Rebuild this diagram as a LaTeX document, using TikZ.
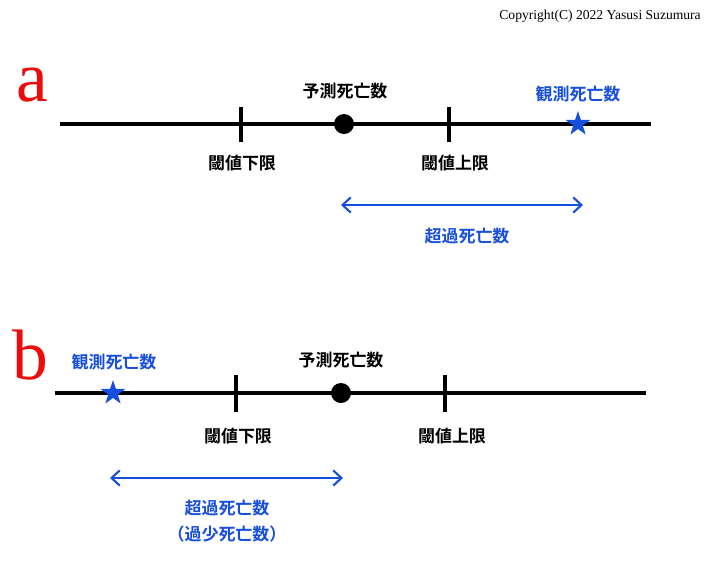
\documentclass[tikz,border=0pt]{standalone}
\usepackage{fontspec}
\setmainfont{Liberation Serif}
\newfontfamily\cjk[BoldFont={Noto Sans CJK JP Bold}]{Noto Sans CJK JP}
\usepackage{tikz}
\usetikzlibrary{shapes.geometric, arrows.meta, positioning, calc}
\definecolor{obsblue}{RGB}{22,78,222}
\definecolor{panelred}{RGB}{236,12,12}
\tikzset{
  axis/.style={line width=2.6pt},
  tick/.style={line width=2.6pt},
  lbl/.style={font=\cjk\bfseries\fontsize{14.5}{17}\selectfont, inner sep=0pt},
  bluelbl/.style={lbl, text=obsblue},
  expected/.style={circle, fill=black, inner sep=0pt, minimum size=20*0.03cm},
  observed/.style={star, star points=5, star point ratio=2.6, fill=obsblue, inner sep=0pt, minimum size=26*0.03cm},
  span/.style={line width=2.1pt, draw=obsblue, {Straight Barb[length=7pt, width=13pt, line width=1.8pt]}-{Straight Barb[length=7pt, width=13pt, line width=1.8pt]}},
  panel/.style={font=\fontsize{61}{61}\selectfont, text=panelred, inner sep=0pt}
}
\begin{document}
\begin{tikzpicture}[x=0.03cm, y=-0.03cm]
    \useasboundingbox (0,0) rectangle (711,579);
    \node[anchor=east, font=\fontsize{11.6}{13}\selectfont, inner sep=0pt] (copy) at (701,16)
      {Copyright(C) 2022 Yasusi Suzumura};

    % Panel a
    \node[panel] (pa) at (32,85) {a};
    \coordinate (aL) at (60,124);
    \coordinate (aR) at (651,124);
    \draw[axis] (aL) -- (aR);
    \draw[tick] (241,107) -- (241,142);
    \draw[tick] (449,107) -- (449,142);
    \node[expected] (aexp) at (344,124) {};
    \node[observed] (aobs) at (578,124) {};
    \node[lbl] (aexpl) at (345,91) {予測死亡数};
    \node[bluelbl] (aobsl) at (578,94) {観測死亡数};
    \node[lbl] (alow) at (242,163) {閾値下限};
    \node[lbl] (aup) at (455,163) {閾値上限};

    % Excess a
    \coordinate (as) at (341,205);
    \coordinate (ae) at (583,205);
    \draw[span] (as) -- (ae);
    \node[bluelbl] (aexc) at (467,236) {超過死亡数};

    % Panel b
    \node[panel] (pb) at (30,355) {b};
    \coordinate (bL) at (55,393);
    \coordinate (bR) at (646,393);
    \draw[axis] (bL) -- (bR);
    \draw[tick] (236,375) -- (236,412);
    \draw[tick] (445,375) -- (445,412);
    \node[expected] (bexp) at (341,393) {};
    \node[observed] (bobs) at (113,393) {};
    \node[lbl] (bexpl) at (341,360) {予測死亡数};
    \node[bluelbl] (bobsl) at (114,362) {観測死亡数};
    \node[lbl] (blow) at (238,436) {閾値下限};
    \node[lbl] (bup) at (452,436) {閾値上限};

    % Excess b
    \coordinate (bs) at (110,478);
    \coordinate (be) at (343,478);
    \draw[span] (bs) -- (be);
    \node[bluelbl] (bexc) at (227,508) {超過死亡数};
    \node[bluelbl] (bdef) at (227,534) {（過少死亡数）};
\end{tikzpicture}
\end{document}
